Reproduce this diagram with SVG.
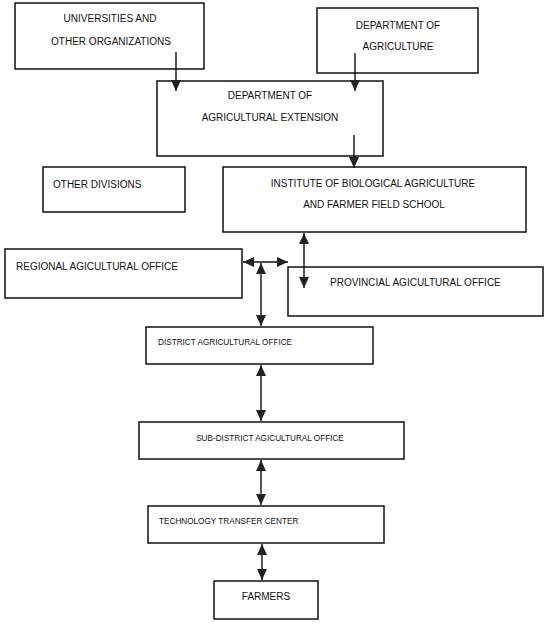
<svg xmlns="http://www.w3.org/2000/svg" width="550" height="625" viewBox="0 0 550 625">
<defs>
<style>
.box{fill:#fff;stroke:#111;stroke-width:1.5}
.t{font-family:"Liberation Sans",Arial,sans-serif;font-size:10px;fill:#111}
.s{font-family:"Liberation Sans",Arial,sans-serif;font-size:8.2px;fill:#111}
.c{text-anchor:middle}
.ln{stroke:#111;stroke-width:1.4;fill:none}
</style>
<marker id="ah" markerUnits="userSpaceOnUse" markerWidth="11" markerHeight="11" viewBox="0 0 11 11" refX="11" refY="5.5" orient="auto-start-reverse">
<path d="M0,0.5 L11,5.5 L0,10.5 Z" fill="#222"/>
</marker>
</defs>
<rect width="550" height="625" fill="#fff"/>
<g id="universities"><rect class="box" x="15" y="3" width="189" height="66"/>
<text class="t c" x="110" y="22">UNIVERSITIES AND</text>
<text class="t c" x="111" y="45">OTHER ORGANIZATIONS</text></g>
<g id="dept-agriculture"><rect class="box" x="317" y="8" width="161" height="65"/>
<text class="t c" x="398" y="29">DEPARTMENT OF</text>
<text class="t c" x="398" y="50">AGRICULTURE</text></g>
<g id="dept-extension"><rect class="box" x="157" y="81" width="226" height="75"/>
<text class="t c" x="270" y="99">DEPARTMENT OF</text>
<text class="t c" x="270" y="121">AGRICULTURAL EXTENSION</text></g>
<g id="other-divisions"><rect class="box" x="43" y="167" width="142" height="45"/>
<text class="t" x="53" y="188">OTHER DIVISIONS</text></g>
<g id="institute"><rect class="box" x="223" y="167" width="303" height="65"/>
<text class="t c" x="373" y="187">INSTITUTE OF BIOLOGICAL AGRICULTURE</text>
<text class="t c" x="374" y="208">AND FARMER FIELD SCHOOL</text></g>
<g id="regional"><rect class="box" x="5" y="249" width="237" height="49"/>
<text class="t" x="16" y="270">REGIONAL AGICULTURAL OFFICE</text></g>
<g id="provincial"><rect class="box" x="288" y="267" width="255" height="49"/>
<text class="t" x="330" y="286">PROVINCIAL AGICULTURAL OFFICE</text></g>
<g id="district"><rect class="box" x="146" y="327" width="227" height="37"/>
<text class="s" x="158" y="345">DISTRICT AGRICULTURAL OFFICE</text></g>
<g id="sub-district"><rect class="box" x="139" y="422" width="265" height="37"/>
<text class="s c" x="270" y="441">SUB-DISTRICT AGICULTURAL OFFICE</text></g>
<g id="ttc"><rect class="box" x="148" y="506" width="236" height="37"/>
<text class="s" x="159" y="524">TECHNOLOGY TRANSFER CENTER</text></g>
<g id="farmers"><rect class="box" x="214" y="581" width="104" height="38"/>
<text class="t c" x="266" y="600">FARMERS</text></g>
<g id="connectors">
<line class="ln" x1="176" y1="52" x2="176" y2="91" marker-end="url(#ah)"/>
<line class="ln" x1="355" y1="53" x2="355" y2="91" marker-end="url(#ah)"/>
<line class="ln" x1="354" y1="135" x2="354" y2="168" marker-end="url(#ah)"/>
<line class="ln" x1="243" y1="262" x2="288" y2="262" marker-start="url(#ah)" marker-end="url(#ah)"/>
<line class="ln" x1="261" y1="263" x2="261" y2="326" marker-start="url(#ah)" marker-end="url(#ah)"/>
<line class="ln" x1="304" y1="233" x2="304" y2="288" marker-start="url(#ah)" marker-end="url(#ah)"/>
<line class="ln" x1="261" y1="365" x2="261" y2="421" marker-start="url(#ah)" marker-end="url(#ah)"/>
<line class="ln" x1="261" y1="460" x2="261" y2="505" marker-start="url(#ah)" marker-end="url(#ah)"/>
<line class="ln" x1="262" y1="544" x2="262" y2="580" marker-start="url(#ah)" marker-end="url(#ah)"/>
</g>
</svg>
